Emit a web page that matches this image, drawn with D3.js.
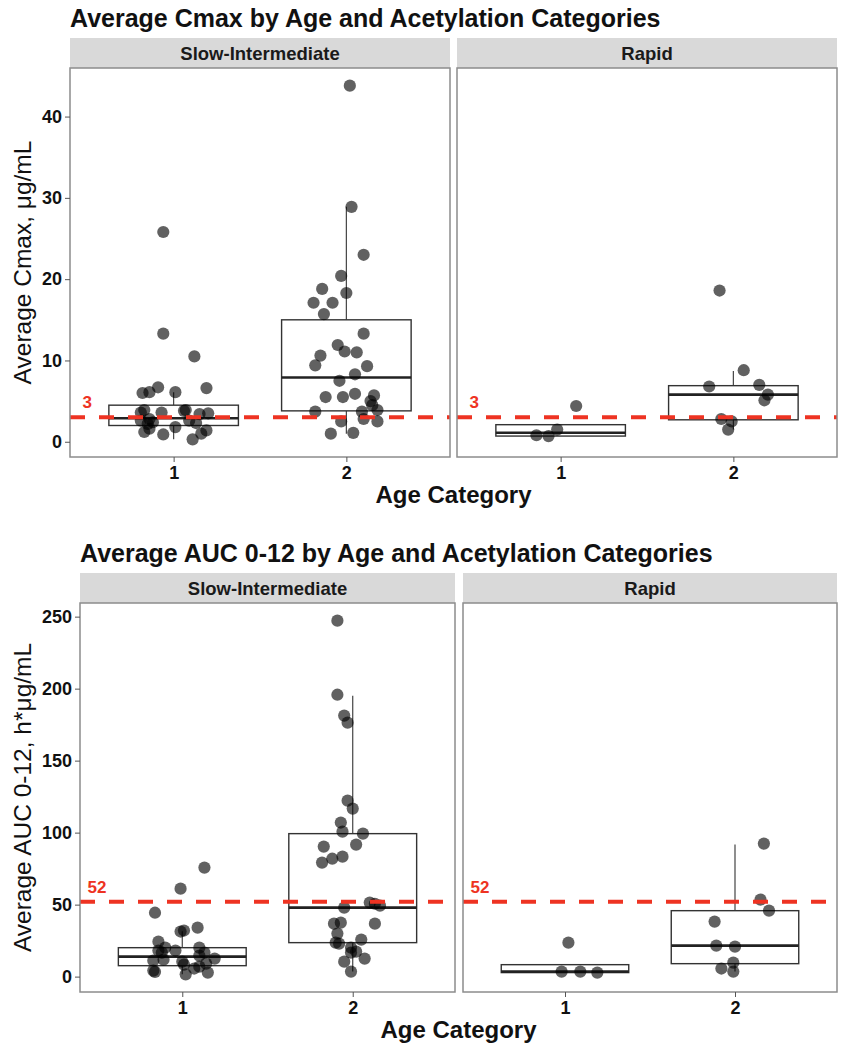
<!DOCTYPE html>
<html>
<head>
<meta charset="utf-8">
<script src="https://cdn.jsdelivr.net/npm/d3@7"></script>
<style>
  body { margin: 0; background: #fff; }
  svg { display: block; font-family: "Liberation Sans", Arial, Helvetica, sans-serif; }
</style>
</head>
<body>
<div id="chart"></div>
<script>
// categories
const ageCategories = ['1', '2'];
const acetylators = ['Slow-Intermediate', 'Rapid'];

// tick labels
const cmaxTicks = [0, 10, 20, 30, 40];
const aucTicks = [0, 50, 100, 150, 200, 250];

// reference lines
const cmaxRef = 3;
const aucRef = 52;

// jittered points: [horizontal jitter (category units), value]
const cmaxSlow1 = [[-0.06, 25.8], [-0.06, 13.3], [0.12, 10.5], [-0.18, 6.0], [-0.14, 6.1], [-0.09, 6.7],
  [0.01, 6.1], [0.19, 6.6], [-0.17, 3.9], [-0.19, 3.6], [-0.07, 3.6], [0.07, 3.9], [0.06, 3.8],
  [0.15, 3.4], [0.20, 3.5], [-0.19, 2.6], [-0.14, 2.8], [-0.15, 2.2], [-0.12, 2.4], [0.09, 2.6],
  [0.13, 2.3], [0.01, 1.8], [-0.17, 1.2], [-0.14, 1.6], [-0.06, 0.9], [0.19, 1.4], [0.16, 1.0], [0.11, 0.3]];
const cmaxSlow2 = [[0.02, 43.8], [0.03, 28.9], [0.10, 23.0], [-0.03, 20.4], [-0.14, 18.8], [0.00, 18.3],
  [-0.19, 17.1], [-0.08, 17.1], [-0.13, 15.7], [0.10, 13.3], [-0.05, 11.9], [-0.01, 11.1], [0.06, 11.0],
  [-0.15, 10.6], [-0.18, 9.4], [0.12, 9.3], [0.05, 8.3], [-0.04, 7.5], [-0.12, 5.5], [-0.02, 5.5],
  [0.05, 5.9], [0.16, 5.7], [0.14, 5.0], [0.15, 4.5], [0.18, 3.9], [0.09, 3.7], [0.10, 2.8],
  [-0.18, 3.7], [-0.03, 2.5], [0.18, 2.5], [-0.09, 1.0], [0.04, 1.1]];
const cmaxRapid1 = [[0.09, 4.4], [-0.02, 1.5], [-0.14, 0.8], [-0.07, 0.7]];
const cmaxRapid2 = [[-0.08, 18.6], [0.06, 8.8], [-0.14, 6.8], [0.15, 7.0], [0.20, 5.8], [0.18, 5.1],
  [-0.07, 2.8], [-0.01, 2.5], [-0.03, 1.5]];

const aucSlow1 = [[0.13, 75.7], [-0.01, 61.1], [-0.16, 44.4], [-0.01, 31.3], [0.01, 32.0], [0.09, 34.0],
  [-0.14, 24.3], [-0.10, 20.1], [-0.14, 18.1], [-0.04, 18.1], [0.10, 20.1], [-0.12, 16.7], [0.13, 16.7],
  [-0.17, 11.1], [-0.11, 11.8], [0.00, 10.4], [0.01, 8.3], [0.10, 14.6], [0.19, 12.5], [0.14, 9.0],
  [-0.17, 4.2], [-0.16, 3.3], [0.07, 5.6], [0.10, 6.9], [0.02, 1.6], [0.15, 2.8]];
const aucSlow2 = [[-0.09, 247.2], [-0.09, 195.8], [-0.05, 181.3], [-0.03, 176.4], [-0.03, 122.2],
  [0.00, 116.7], [-0.07, 107.0], [-0.06, 100.7], [0.06, 99.3], [0.02, 91.7], [-0.17, 90.3],
  [-0.12, 81.9], [-0.06, 83.3], [-0.18, 79.2], [0.10, 51.4], [0.16, 49.3], [0.13, 50.6],
  [-0.05, 47.9], [-0.11, 36.8], [-0.07, 37.5], [0.13, 36.8], [-0.09, 29.9], [-0.10, 23.6],
  [-0.08, 22.9], [0.05, 25.7], [-0.01, 20.1], [-0.01, 16.7], [0.02, 17.4], [-0.05, 10.4],
  [0.07, 12.5], [-0.01, 3.5]];
const aucRapid1 = [[0.02, 23.6], [-0.02, 3.5], [0.09, 3.5], [0.19, 2.8]];
const aucRapid2 = [[0.17, 92.4], [0.15, 53.5], [0.20, 45.8], [-0.12, 38.2], [-0.11, 21.5], [0.00, 20.8],
  [-0.01, 9.7], [-0.08, 5.6], [-0.01, 3.5]];

// box statistics per age category: [lower whisker, q1, median, q3, upper whisker]
const cmaxBoxSlow = [[0.3, 2.0, 2.9, 4.5, 6.1], [1.0, 3.8, 7.9, 15.0, 28.9]];
const cmaxBoxRapid = [[0.7, 0.7, 1.1, 2.1, 2.1], [1.5, 2.7, 5.8, 6.9, 8.7]];
const aucBoxSlow = [[1.6, 7.6, 13.9, 20.1, 31.5], [3.5, 23.6, 47.9, 99.3, 195.0]];
const aucBoxRapid = [[2.8, 2.8, 3.5, 8.3, 8.3], [3.5, 9.0, 21.5, 45.8, 91.7]];

const width = 845;
const height = 1050;

const svg = d3.select('#chart')
    .append('svg')
    .attr('width', width)
    .attr('height', height);

function drawFigure(opt) {
  const g = svg.append('g');

  // shared y scale over both facets, ggplot style 5% expansion
  const values = [];
  opt.panels.forEach(p => {
    p.points.forEach(pts => pts.forEach(d => values.push(d[1])));
    p.boxes.forEach(b => values.push(b[0], b[4]));
  });
  const [lo, hi] = d3.extent(values);
  const pad = (hi - lo) * 0.05;
  const y = d3.scaleLinear()
      .domain([lo - pad, hi + pad])
      .range([opt.bottom, opt.top]);

  // title
  g.append('text')
      .attr('x', opt.titleX)
      .attr('y', opt.titleY)
      .attr('font-size', 25)
      .attr('font-weight', 'bold')
      .attr('fill', '#111')
      .text(opt.title);

  opt.panels.forEach((p, pi) => {
    const x = d3.scaleLinear()
        .domain([0.4, 2.6])
        .range([p.x0, p.x1]);
    const pg = g.append('g');

    // strip
    pg.append('rect')
        .attr('x', p.x0)
        .attr('y', opt.top - 30)
        .attr('width', p.x1 - p.x0)
        .attr('height', 30)
        .attr('fill', '#d9d9d9');
    pg.append('text')
        .attr('x', (p.x0 + p.x1) / 2)
        .attr('y', opt.top - 15)
        .attr('dy', '0.36em')
        .attr('text-anchor', 'middle')
        .attr('font-size', 18.5)
        .attr('font-weight', 'bold')
        .attr('fill', '#1a1a1a')
        .text(acetylators[pi]);

    // boxes
    const bw = x(1.375) - x(1);
    const boxes = pg.selectAll('g.box')
        .data(p.boxes)
        .enter().append('g')
        .attr('class', 'box');
    boxes.append('line')
        .attr('x1', (d, i) => x(i + 1))
        .attr('x2', (d, i) => x(i + 1))
        .attr('y1', d => y(d[4]))
        .attr('y2', d => y(d[3]))
        .attr('stroke', '#444')
        .attr('stroke-width', 1.2);
    boxes.append('line')
        .attr('x1', (d, i) => x(i + 1))
        .attr('x2', (d, i) => x(i + 1))
        .attr('y1', d => y(d[1]))
        .attr('y2', d => y(d[0]))
        .attr('stroke', '#444')
        .attr('stroke-width', 1.2);
    boxes.append('rect')
        .attr('x', (d, i) => x(i + 1) - bw)
        .attr('width', bw * 2)
        .attr('y', d => y(d[3]))
        .attr('height', d => y(d[1]) - y(d[3]))
        .attr('fill', '#fff')
        .attr('stroke', '#333')
        .attr('stroke-width', 1.4);
    boxes.append('line')
        .attr('x1', (d, i) => x(i + 1) - bw)
        .attr('x2', (d, i) => x(i + 1) + bw)
        .attr('y1', d => y(d[2]))
        .attr('y2', d => y(d[2]))
        .attr('stroke', '#222')
        .attr('stroke-width', 2.6);

    // jittered points
    p.points.forEach((pts, ci) => {
      pg.append('g').selectAll('circle')
          .data(pts)
          .enter().append('circle')
          .attr('cx', d => x(ci + 1 + d[0]))
          .attr('cy', d => y(d[1]))
          .attr('r', 6.1)
          .attr('fill', '#000')
          .attr('fill-opacity', 0.62);
    });

    // reference line + label
    pg.append('line')
        .attr('x1', p.x0)
        .attr('x2', p.x1)
        .attr('y1', y(opt.ref))
        .attr('y2', y(opt.ref))
        .attr('stroke', '#ee3322')
        .attr('stroke-width', 4)
        .attr('stroke-dasharray', '15,14');
    pg.append('text')
        .attr('x', x(0.5))
        .attr('y', y(opt.ref) - 9)
        .attr('text-anchor', 'middle')
        .attr('font-size', 17)
        .attr('font-weight', 'bold')
        .attr('fill', '#ee3322')
        .text(opt.ref);

    // panel border
    pg.append('rect')
        .attr('x', p.x0)
        .attr('y', opt.top)
        .attr('width', p.x1 - p.x0)
        .attr('height', opt.bottom - opt.top)
        .attr('fill', 'none')
        .attr('stroke', '#8c8c8c')
        .attr('stroke-width', 1.5);

    // x axis
    const xAxis = pg.append('g')
        .attr('transform', `translate(0,${opt.bottom})`)
        .call(d3.axisBottom(x)
            .tickValues([1, 2])
            .tickFormat(d => ageCategories[d - 1])
            .tickSize(5)
            .tickPadding(4));
    xAxis.select('.domain').remove();
    xAxis.selectAll('line').attr('stroke', '#555');
    xAxis.selectAll('text')
        .attr('font-size', 18)
        .attr('font-weight', 'bold')
        .attr('fill', '#111')
        .attr('font-family', null);

    // y axis on first facet
    if (pi === 0) {
      const yAxis = pg.append('g')
          .attr('transform', `translate(${p.x0},0)`)
          .call(d3.axisLeft(y)
              .tickValues(opt.ticks)
              .tickSize(5)
              .tickPadding(3));
      yAxis.select('.domain').remove();
      yAxis.selectAll('line').attr('stroke', '#555');
      yAxis.selectAll('text')
          .attr('font-size', 18)
          .attr('font-weight', 'bold')
          .attr('fill', '#111')
          .attr('font-family', null);
    }
  });

  // y axis title
  g.append('text')
      .attr('transform', `translate(${opt.yTitleX},${(opt.top + opt.bottom) / 2}) rotate(-90)`)
      .attr('text-anchor', 'middle')
      .attr('font-size', 24.5)
      .attr('fill', '#111')
      .text(opt.yLabel);

  // x axis title
  const first = opt.panels[0];
  const last = opt.panels[opt.panels.length - 1];
  g.append('text')
      .attr('x', (first.x0 + last.x1) / 2)
      .attr('y', opt.xTitleY)
      .attr('text-anchor', 'middle')
      .attr('font-size', 24)
      .attr('font-weight', 'bold')
      .attr('fill', '#111')
      .text('Age Category');
}

drawFigure({
  title: 'Average Cmax by Age and Acetylation Categories',
  titleX: 70,
  titleY: 27,
  top: 68,
  bottom: 457,
  ticks: cmaxTicks,
  ref: cmaxRef,
  yLabel: 'Average Cmax, μg/mL',
  yTitleX: 31,
  xTitleY: 503,
  panels: [
    {x0: 70, x1: 450, points: [cmaxSlow1, cmaxSlow2], boxes: cmaxBoxSlow},
    {x0: 457, x1: 837, points: [cmaxRapid1, cmaxRapid2], boxes: cmaxBoxRapid}
  ]
});

drawFigure({
  title: 'Average AUC 0-12 by Age and Acetylation Categories',
  titleX: 80,
  titleY: 562,
  top: 603,
  bottom: 992,
  ticks: aucTicks,
  ref: aucRef,
  yLabel: 'Average AUC 0-12, h*μg/mL',
  yTitleX: 31,
  xTitleY: 1038,
  panels: [
    {x0: 80, x1: 455, points: [aucSlow1, aucSlow2], boxes: aucBoxSlow},
    {x0: 463, x1: 837, points: [aucRapid1, aucRapid2], boxes: aucBoxRapid}
  ]
});
</script>
</body>
</html>
